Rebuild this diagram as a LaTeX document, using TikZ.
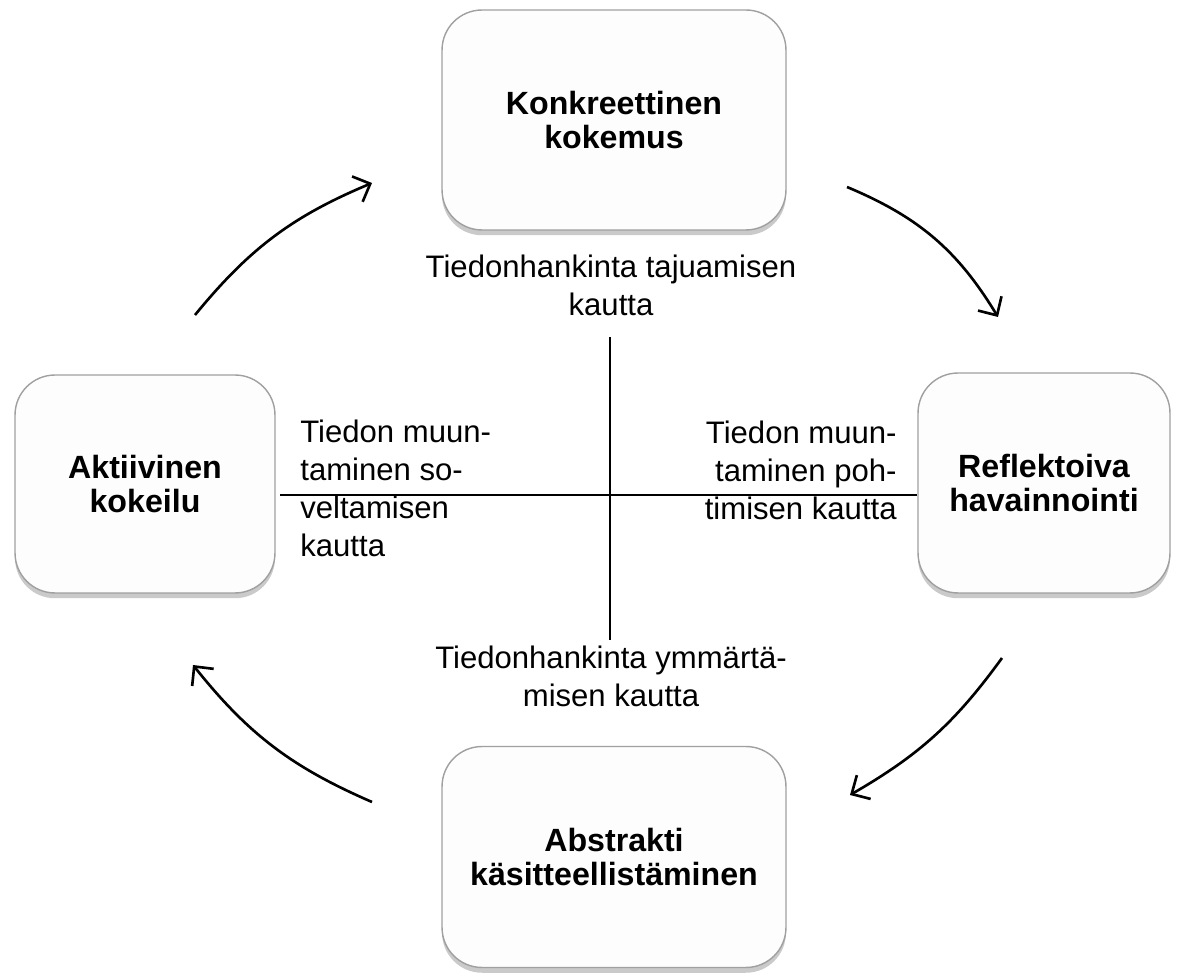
\documentclass[tikz,border=0pt]{standalone}
\usepackage{fontspec}
\setmainfont{Liberation Sans}
\usetikzlibrary{arrows.meta,positioning,shadows}
\definecolor{KolbGray}{RGB}{160,160,160}
\definecolor{KolbFill}{RGB}{253,253,253}

\begin{document}
\begin{tikzpicture}[x=0.02cm, y=0.02cm, every node/.style={font=\fontsize{17.7}{21.6}\selectfont}, box/.style={draw=KolbGray,line width=0.8pt,rounded corners=0.8cm,fill=KolbFill,align=center,font=\fontsize{18.3}{19.5}\selectfont\bfseries,drop shadow={shadow xshift=0pt,shadow yshift=-3pt,opacity=0.35,fill=black!60}}, arr/.style={-{Straight Barb[length=2.8mm,width=5.5mm]},line width=1.5pt}, sep/.style={line width=1pt}]
\useasboundingbox (0,0) rectangle (1180,974);
% the four stages
\node[box,minimum width=6.88cm,minimum height=4.4cm] (kk) at (614,854) {Konkreettinen\\kokemus};
\node[box,minimum width=5.04cm,minimum height=4.4cm] (rh) at (1044,491) {Reflektoiva\\havainnointi};
\node[box,minimum width=6.88cm,minimum height=4.42cm] (ak) at (614,117) {Abstrakti\\käsitteellistäminen};
\node[box,minimum width=5.2cm,minimum height=4.36cm] (ko) at (145,490) {Aktiivinen\\kokeilu};
% axes and their labels
\node[align=center] (taju) at (611,689) {Tiedonhankinta tajuamisen\\kautta};
\node[align=center] (ymm) at (611,298) {Tiedonhankinta ymmärtä-\\misen kautta};
\node[align=left,anchor=west,inner sep=0pt] (sov) at (300,485.5) {Tiedon muun-\\taminen so-\\veltamisen\\kautta};
\node[align=right,anchor=east,inner sep=0pt] (poh) at (897,504) {Tiedon muun-\\taminen poh-\\timisen kautta};
\coordinate (hl) at (280,479); \coordinate (vt) at (610,637); \coordinate (vb) at (610,334);
\draw[sep] (hl) -- (hl -| rh.west); \draw[sep] (vt) -- (vb);
% cycle arrows
\coordinate (a1s) at (195,659); \coordinate (a1e) at (372,791);
\coordinate (a2s) at (847,787); \coordinate (a2e) at (998,657);
\coordinate (a3s) at (1002,316); \coordinate (a3e) at (850,179);
\coordinate (a4s) at (372,172); \coordinate (a4e) at (193,309);
\draw[arr] (a1s) to[bend left=14] (a1e); \draw[arr] (a2s) to[bend left=18] (a2e); \draw[arr] (a3s) to[bend left=12] (a3e); \draw[arr] (a4s) to[bend left=14] (a4e);
\end{tikzpicture}
\end{document}
